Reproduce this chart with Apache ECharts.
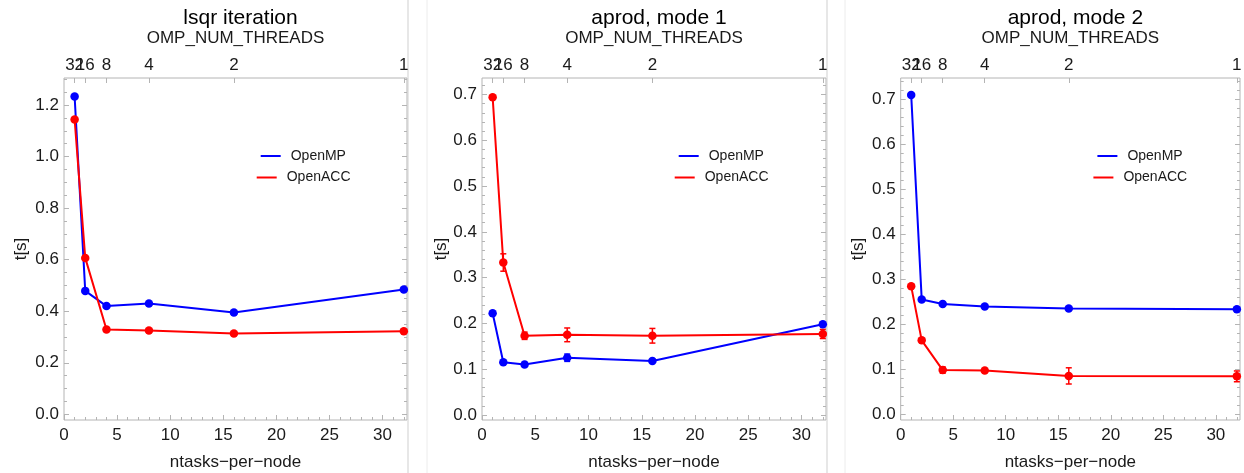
<!DOCTYPE html>
<html>
<head>
<meta charset="utf-8">
<title>lsqr / aprod timings</title>
<script src="https://cdn.jsdelivr.net/npm/echarts@6.0.0/dist/echarts.min.js"></script>
<style>
  html, body { margin: 0; padding: 0; background: #fff; }
  #chart { width: 1244px; height: 473px; }
</style>
</head>
<body>
<div id="chart"></div>
<script>
// x positions (ntasks-per-node) and the matching OMP_NUM_THREADS labels
const ntasks = [1, 2, 4, 8, 16, 32]
const ompThreads = ['32', '16', '8', '4', '2', '1']
const xTicks = [0, 5, 10, 15, 20, 25, 30]
const lsqrYTicks = [0, 0.2, 0.4, 0.6, 0.8, 1.0, 1.2]
const aprodYTicks = [0, 0.1, 0.2, 0.3, 0.4, 0.5, 0.6, 0.7]

// lsqr iteration
const lsqrOpenMP = [1.233, 0.479, 0.420, 0.430, 0.395, 0.484]
const lsqrOpenACC = [1.144, 0.607, 0.329, 0.325, 0.314, 0.322]

// aprod, mode 1
const aprod1OpenMP = [0.222, 0.115, 0.110, 0.125, 0.118, 0.198]
const aprod1OpenMPErr = [0, 0, 0, 0.008, 0, 0]
const aprod1OpenACC = [0.694, 0.333, 0.173, 0.175, 0.173, 0.177]
const aprod1OpenACCErr = [0, 0.019, 0.008, 0.015, 0.016, 0.010]

// aprod, mode 2
const aprod2OpenMP = [0.709, 0.255, 0.245, 0.239, 0.235, 0.233]
const aprod2OpenMPErr = [0, 0, 0, 0, 0, 0]
const aprod2OpenACC = [0.284, 0.164, 0.098, 0.097, 0.085, 0.084]
const aprod2OpenACCErr = [0, 0.004, 0.007, 0.004, 0.018, 0.012]

const BLUE = '#0000ff'
const RED = '#ff0000'
const FRAME = '#b4b4b4'
const TEXT = '#1a1a1a'
const FONT = '"Liberation Sans", Arial, sans-serif'

const panels = [
  { title: 'lsqr iteration', omp: lsqrOpenMP, ompErr: null, acc: lsqrOpenACC, accErr: null,
    yTicks: lsqrYTicks, yMinorStep: 0.05, yMin: -0.022, yMax: 1.305, left: 64, width: 343, nameGap: 34 },
  { title: 'aprod, mode 1', omp: aprod1OpenMP, ompErr: aprod1OpenMPErr, acc: aprod1OpenACC, accErr: aprod1OpenACCErr,
    yTicks: aprodYTicks, yMinorStep: 0.02, yMin: -0.011, yMax: 0.736, left: 482, width: 344, nameGap: 28.5 },
  { title: 'aprod, mode 2', omp: aprod2OpenMP, ompErr: aprod2OpenMPErr, acc: aprod2OpenACC, accErr: aprod2OpenACCErr,
    yTicks: aprodYTicks, yMinorStep: 0.02, yMin: -0.013, yMax: 0.747, left: 900.7, width: 339.3, nameGap: 34 }
]

const TOP = 78
const HEIGHT = 342
const X_MIN = 0
const X_MAX = 32.3

function minorValues(min, max, step) {
  const out = []
  for (let k = Math.ceil(min / step); k * step <= max; k++) {
    out.push(Math.round(k * step * 1e6) / 1e6)
  }
  return out
}

const xMinor = minorValues(X_MIN, X_MAX, 1)
// the 32 and 16 labels overlap in the original; split them over two axes so none gets hidden
const topEven = ntasks.filter((_, i) => i % 2 === 0)
const topOdd = ntasks.filter((_, i) => i % 2 === 1)

const grids = []
const xAxes = []
const yAxes = []
const series = []
const titles = []
const legends = []

function errorBars(params, api) {
  const x = api.value(0)
  const y = api.value(1)
  const e = api.value(2)
  if (!e) return
  const hi = api.coord([x, y + e])
  const lo = api.coord([x, y - e])
  const color = api.visual('color')
  const style = { stroke: color, lineWidth: 1.5 }
  return {
    type: 'group',
    children: [
      { type: 'line', shape: { x1: hi[0], y1: hi[1], x2: lo[0], y2: lo[1] }, style },
      { type: 'line', shape: { x1: hi[0] - 3, y1: hi[1], x2: hi[0] + 3, y2: hi[1] }, style },
      { type: 'line', shape: { x1: lo[0] - 3, y1: lo[1], x2: lo[0] + 3, y2: lo[1] }, style }
    ]
  }
}

panels.forEach((p, g) => {
  grids.push({
    left: p.left, top: TOP, width: p.width, height: HEIGHT,
    show: true, borderColor: FRAME, borderWidth: 1, backgroundColor: '#fff',
    containLabel: false, outerBoundsMode: 'none'
  })

  const base = { gridIndex: g, type: 'value', min: X_MIN, max: X_MAX,
    axisLine: { show: false, onZero: false }, splitLine: { show: false } }
  const topLabel = { margin: 4, fontSize: 17, color: TEXT, fontFamily: FONT,
    hideOverlap: false, showMinLabel: true, showMaxLabel: true,
    formatter: v => ompThreads[ntasks.indexOf(v)] }
  // bottom, major ticks with labels
  xAxes.push(Object.assign({}, base, {
    position: 'bottom',
    name: 'ntasks\u2212per\u2212node', nameLocation: 'middle', nameGap: 34,
    nameTextStyle: { fontSize: 17, color: TEXT, fontFamily: FONT },
    axisTick: { inside: true, length: 5, customValues: xTicks, lineStyle: { color: FRAME } },
    axisLabel: { customValues: xTicks, margin: 7, fontSize: 17, color: TEXT, fontFamily: FONT, hideOverlap: false }
  }))
  // bottom, minor ticks
  xAxes.push(Object.assign({}, base, {
    position: 'bottom',
    axisTick: { inside: true, length: 3, customValues: xMinor, lineStyle: { color: FRAME } },
    axisLabel: { show: false }
  }))
  // top, OMP_NUM_THREADS
  xAxes.push(Object.assign({}, base, {
    position: 'top',
    name: 'OMP_NUM_THREADS', nameLocation: 'middle', nameGap: 31,
    nameTextStyle: { fontSize: 17, color: TEXT, fontFamily: FONT },
    axisTick: { inside: true, length: 5, customValues: ntasks, lineStyle: { color: FRAME } },
    axisLabel: Object.assign({ customValues: topEven }, topLabel)
  }))
  xAxes.push(Object.assign({}, base, {
    position: 'top',
    axisTick: { show: false },
    axisLabel: Object.assign({ customValues: topOdd }, topLabel)
  }))

  const yMinor = minorValues(p.yMin, p.yMax, p.yMinorStep)
  const ybase = { gridIndex: g, type: 'value', min: p.yMin, max: p.yMax,
    axisLine: { show: false, onZero: false }, splitLine: { show: false } }
  yAxes.push(Object.assign({}, ybase, {
    position: 'left',
    name: 't[s]', nameLocation: 'middle', nameGap: p.nameGap,
    nameTextStyle: { fontSize: 17, color: TEXT, fontFamily: FONT },
    axisTick: { inside: true, length: 5, customValues: p.yTicks, lineStyle: { color: FRAME } },
    axisLabel: { customValues: p.yTicks, margin: 5, fontSize: 17, color: TEXT, fontFamily: FONT,
      showMinLabel: true, showMaxLabel: true, formatter: v => v.toFixed(1) }
  }))
  yAxes.push(Object.assign({}, ybase, {
    position: 'left',
    axisTick: { inside: true, length: 3, customValues: yMinor, lineStyle: { color: FRAME } },
    axisLabel: { show: false }
  }))
  yAxes.push(Object.assign({}, ybase, {
    position: 'right',
    axisTick: { inside: true, length: 5, customValues: p.yTicks, lineStyle: { color: FRAME } },
    axisLabel: { show: false }
  }))
  yAxes.push(Object.assign({}, ybase, {
    position: 'right',
    axisTick: { inside: true, length: 3, customValues: yMinor, lineStyle: { color: FRAME } },
    axisLabel: { show: false }
  }))

  const xi = g * 4
  const yi = g * 4
  ;[['OpenMP', BLUE, p.omp, p.ompErr], ['OpenACC', RED, p.acc, p.accErr]].forEach(([name, color, vals, errs]) => {
    series.push({
      name, type: 'line', xAxisIndex: xi, yAxisIndex: yi,
      data: ntasks.map((x, i) => [x, vals[i]]),
      symbol: 'circle', symbolSize: 8.5,
      itemStyle: { color }, lineStyle: { color, width: 2 },
      emphasis: { disabled: true }
    })
    if (errs) {
      series.push({
        name: name + ' error', type: 'custom', xAxisIndex: xi, yAxisIndex: yi,
        data: ntasks.map((x, i) => [x, vals[i], errs[i]]),
        encode: { x: 0, y: 1 },
        itemStyle: { color },
        renderItem: errorBars,
        z: 3
      })
    }
  })

  titles.push({
    text: p.title, left: p.left + p.width / 2, top: 3, textAlign: 'center',
    textStyle: { fontSize: 21, fontWeight: 'normal', color: '#000', fontFamily: FONT }
  })

  const legendBase = { orient: 'vertical', icon: 'rect', itemWidth: 20, itemHeight: 2, padding: 0,
    selectedMode: false, textStyle: { fontSize: 14, color: TEXT, fontFamily: FONT, padding: [0, 0, 0, 5] } }
  legends.push(Object.assign({}, legendBase, { data: ['OpenMP'], left: p.left + 196.7, top: 149 }))
  legends.push(Object.assign({}, legendBase, { data: ['OpenACC'], left: p.left + 192.7, top: 170.5 }))
})

const chart = echarts.init(document.getElementById('chart'), null, { renderer: 'canvas' })
chart.setOption({
  animation: false,
  backgroundColor: '#fff',
  title: titles,
  legend: legends,
  grid: grids,
  xAxis: xAxes,
  yAxis: yAxes,
  series,
  graphic: [408, 827].map(x => ({
    type: 'line', shape: { x1: x, y1: 0, x2: x, y2: 473 }, style: { stroke: '#cfcfcf', lineWidth: 1 }
  })).concat([427, 845].map(x => ({
    type: 'line', shape: { x1: x, y1: 0, x2: x, y2: 473 }, style: { stroke: '#ececec', lineWidth: 1 }
  })))
})
</script>
</body>
</html>
